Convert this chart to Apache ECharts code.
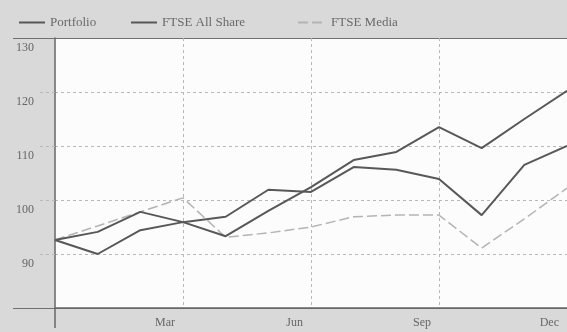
<!DOCTYPE html>
<html>
<head>
<meta charset="utf-8">
<script src="https://cdn.jsdelivr.net/npm/echarts@6/dist/echarts.min.js"></script>
<style>
  html, body { margin: 0; padding: 0; background: #d9d9d9; }
  #chart { width: 567px; height: 332px; }
</style>
</head>
<body>
<div id="chart"></div>
<script>
// Monthly index levels, December to December
const months = ['Dec', 'Jan', 'Feb', 'Mar', 'Apr', 'May', 'Jun', 'Jul', 'Aug', 'Sep', 'Oct', 'Nov', 'Dec'];
const portfolio = [92.6, 94.1, 97.8, 95.9, 93.3, 98.0, 102.4, 107.4, 108.9, 113.5, 109.6, 115.0, 120.2];
const ftseAllShare = [92.6, 90.0, 94.4, 95.9, 96.9, 101.9, 101.5, 106.1, 105.6, 103.9, 97.2, 106.5, 110.0];
const ftseMedia = [92.6, 95.2, 97.8, 100.4, 93.1, 93.9, 95.0, 96.9, 97.2, 97.2, 91.1, 96.5, 102.2];
const quarterTicks = [3, 6, 9, 12];
const yTicks = { min: 80, max: 130, step: 10 };

const serif = 'Liberation Serif';
const dark = '#585858';
const light = '#b4b4b4';
const isQuarter = (i) => quarterTicks.indexOf(i) !== -1;

const chart = echarts.init(document.getElementById('chart'));

// legend entries show only the line sample, no point symbol
const legendBase = {
  top: 11,
  itemWidth: 26,
  itemHeight: 14,
  itemGap: 0,
  itemStyle: { opacity: 0 },
  textStyle: { fontFamily: serif, fontSize: 13, color: '#6a6a6a' }
};

chart.setOption({
  backgroundColor: '#d9d9d9',
  animation: false,
  legend: [
    Object.assign({}, legendBase, { left: 13, data: ['Portfolio'] }),
    Object.assign({}, legendBase, { left: 125, data: ['FTSE All Share'] }),
    Object.assign({}, legendBase, { left: 292, itemWidth: 28, data: ['FTSE Media'] })
  ],
  grid: {
    left: 55, top: 38, width: 517, height: 270,
    show: true, backgroundColor: '#fcfcfc', borderWidth: 0
  },
  xAxis: {
    type: 'category',
    data: months,
    boundaryGap: false,
    axisLine: { lineStyle: { color: '#666', width: 1.5 } },
    axisTick: {
      show: true, length: 20, inside: false,
      interval: (i) => i === 0,
      lineStyle: { color: '#666', width: 1.5 }
    },
    axisLabel: {
      interval: (i) => isQuarter(i),
      align: 'right',
      padding: [0, 8, 0, 0],
      margin: 9,
      fontFamily: serif, fontSize: 12, color: '#666'
    },
    splitLine: {
      show: true,
      interval: (i) => isQuarter(i),
      lineStyle: { color: '#b8b8b8', type: [3, 3], width: 1 }
    }
  },
  yAxis: [
    {
      type: 'value',
      min: yTicks.min, max: yTicks.max, interval: yTicks.step,
      axisLine: { show: true, lineStyle: { color: '#666', width: 1.5 } },
      axisTick: { show: true, length: 18, lineStyle: { color: '#b8b8b8', type: [3, 3] } },
      axisLabel: {
        showMinLabel: false,
        margin: 21,
        verticalAlign: 'top',
        padding: [4, 0, 0, 0],
        fontFamily: serif, fontSize: 12, color: '#666'
      },
      splitLine: { show: true, lineStyle: { color: '#b8b8b8', type: [3, 3], width: 1 } }
    },
    {
      // frame lines at the bottom and top of the value range
      type: 'value',
      min: yTicks.min, max: yTicks.max, interval: yTicks.max - yTicks.min,
      position: 'left',
      axisLine: { show: false },
      axisTick: { show: true, length: 42, lineStyle: { color: '#707070', width: 1.2 } },
      axisLabel: { show: false },
      splitLine: { show: true, lineStyle: { color: '#707070', width: 1.2 } }
    }
  ],
  series: [
    {
      name: 'Portfolio', type: 'line', data: portfolio,
      symbol: 'none', z: 4,
      lineStyle: { color: dark, width: 2 }, itemStyle: { color: dark }
    },
    {
      name: 'FTSE All Share', type: 'line', data: ftseAllShare,
      symbol: 'none', z: 3,
      lineStyle: { color: dark, width: 2 }, itemStyle: { color: dark }
    },
    {
      name: 'FTSE Media', type: 'line', data: ftseMedia,
      symbol: 'none', z: 2,
      lineStyle: { color: light, width: 1.5, type: [10, 4] }, itemStyle: { color: light }
    }
  ]
});
</script>
</body>
</html>
